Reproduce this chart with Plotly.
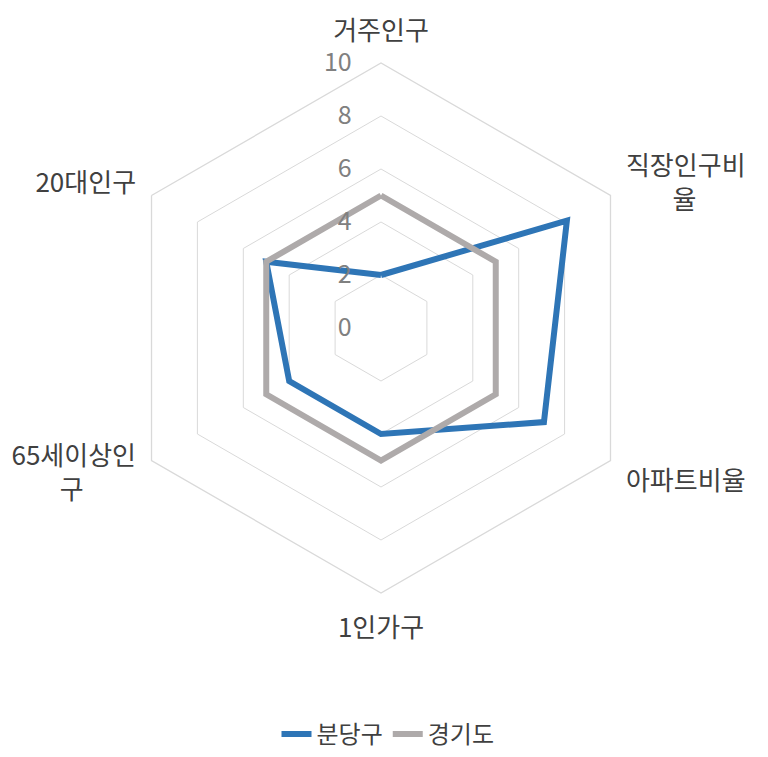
import plotly.graph_objects as go

NB = "&nbsp;"
categories = ["거주인구", "<br>직장인구비<br>" + NB * 8 + "율", "아파트비율", "1인가구",
              "65세이상인<br>구" + NB * 9 + "<br><br>", "20대인구"]
bundang = [2.0, 8.1, 7.1, 4.0, 4.0, 5.0]
gyeonggi = [5.0, 5.0, 5.0, 5.0, 5.0, 5.0]
radial_ticks = [0, 2, 4, 6, 8, 10]

# page body has an 8px margin; the figure is sized so it ends at the window edge
OFF = 8
W, H = 768 - OFF, 757 - OFF
cx, cy, R = 381 - OFF, 328 - OFF, 265

fig = go.Figure()
fig.add_trace(go.Scatterpolar(
    r=bundang + bundang[:1], theta=categories + categories[:1],
    mode="lines", name="분당구",
    line=dict(color="#2E75B6", width=6),
))
fig.add_trace(go.Scatterpolar(
    r=gyeonggi + gyeonggi[:1], theta=categories + categories[:1],
    mode="lines", name="경기도",
    line=dict(color="#AEAAAA", width=6),
))

fig.update_layout(
    width=W, height=H,
    margin=dict(l=0, r=0, t=0, b=0),
    paper_bgcolor="white",
    font=dict(family="Noto Sans CJK KR", color="#404040", size=22),
    polar=dict(
        domain=dict(x=[(cx - R) / W, (cx + R) / W], y=[(H - cy - R) / H, (H - cy + R) / H]),
        gridshape="linear",
        bgcolor="white",
        radialaxis=dict(
            range=[0, 10], tickvals=radial_ticks, angle=90, tickangle=90,
            side="counterclockwise",
            showline=False, gridcolor="#D9D9D9", gridwidth=1.3,
            ticks="outside", ticklen=20, tickcolor="rgba(0,0,0,0)",
            tickfont=dict(family="Noto Sans CJK KR", size=25, color="#808080"),
        ),
        angularaxis=dict(
            direction="clockwise", rotation=90,
            showgrid=False, showline=True, linecolor="#D9D9D9", linewidth=1.3,
            ticks="outside", ticklen=12, tickcolor="rgba(0,0,0,0)",
            tickfont=dict(family="Noto Sans CJK KR", size=26, color="#404040"),
        ),
    ),
    showlegend=True,
    legend=dict(
        orientation="h", x=(388 - OFF) / W, xanchor="center",
        y=0.0, yanchor="bottom",
        font=dict(family="Noto Sans CJK KR", size=24, color="#404040"),
    ),
)

fig.write_html("out.html")
